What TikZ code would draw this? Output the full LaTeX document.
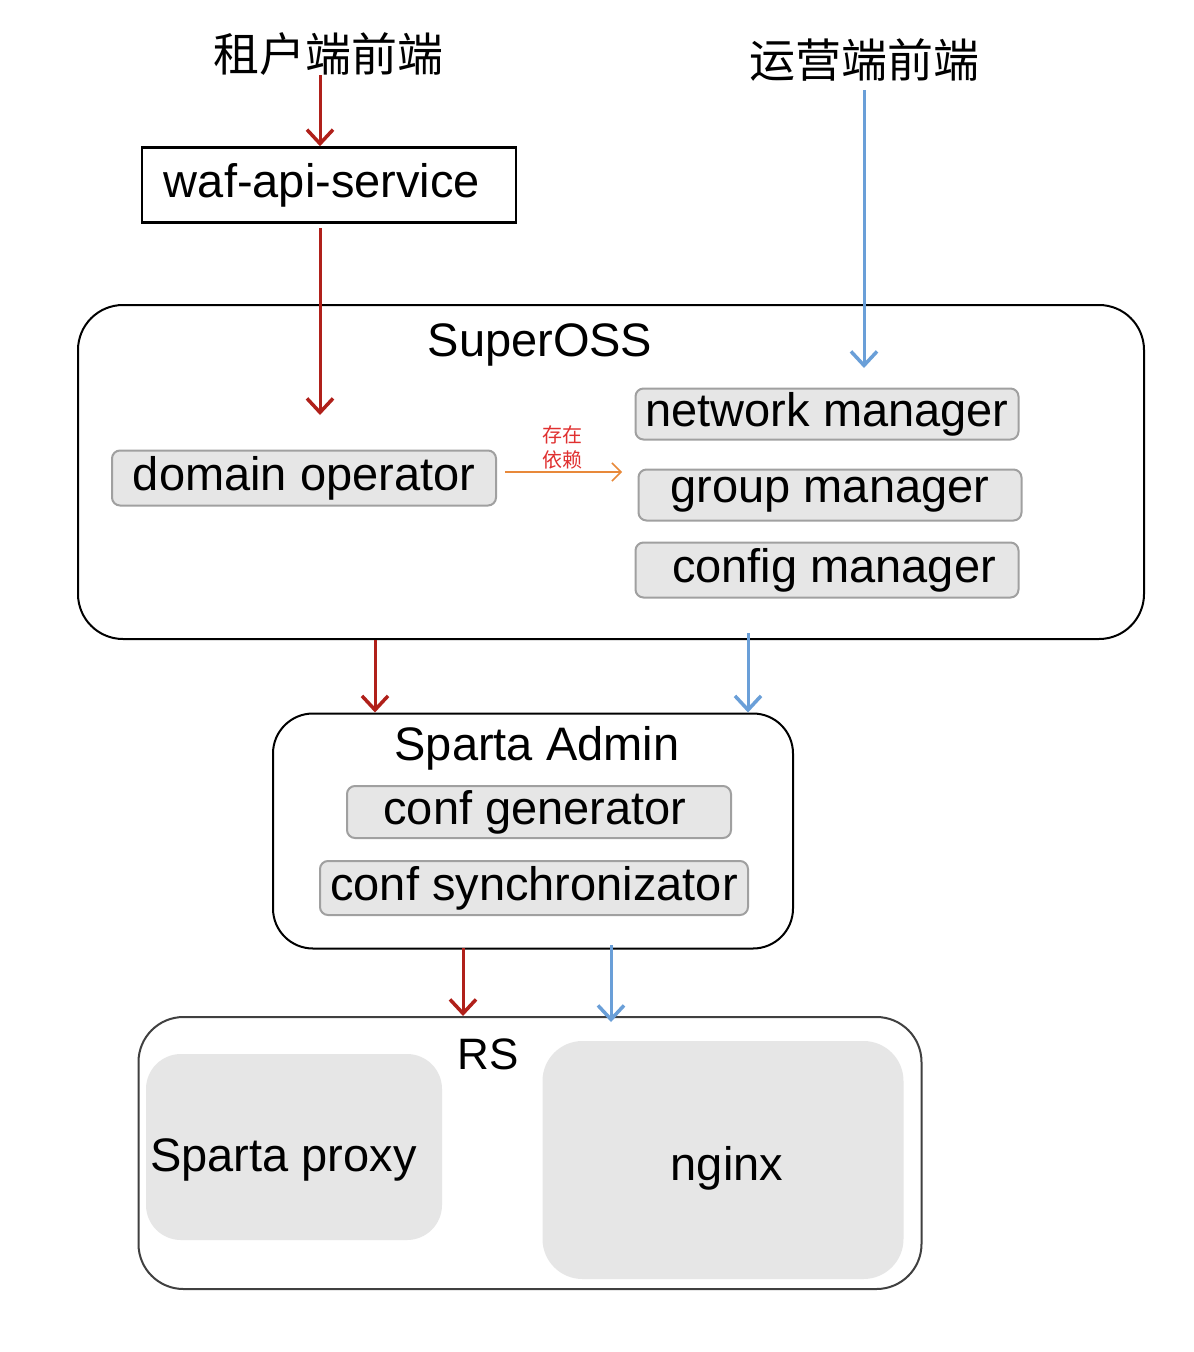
\documentclass[tikz,border=0pt]{standalone}
\usepackage{fontspec}
\setmainfont{Liberation Sans}
\newfontfamily\cjk{Noto Sans CJK SC}
\usetikzlibrary{arrows.meta}
\definecolor{redarr}{HTML}{B0201A}
\definecolor{bluearr}{HTML}{6A9FD8}
\definecolor{orangearr}{HTML}{E8893A}
\definecolor{deptext}{HTML}{E03030}
\definecolor{grayfill}{HTML}{E6E6E6}
\definecolor{grayline}{HTML}{A0A0A0}
\definecolor{rsline}{HTML}{404040}
\tikzset{
  big/.style={font=\fontsize{47}{56}\selectfont},
  title/.style={font=\cjk\fontsize{46}{54}\selectfont},
  plainbox/.style={draw=black, line width=2.5pt, inner sep=0pt},
  container/.style={draw=black, line width=2pt, rounded corners=45pt, inner sep=0pt},
  graybox/.style={draw=grayline, fill=grayfill, line width=2pt, rounded corners=8pt, inner sep=0pt, big},
  softbox/.style={fill=grayfill, inner sep=0pt, big},
  redflow/.style={draw=redarr, line width=3pt, -{Straight Barb[length=14pt,width=26pt,line width=3.5pt]}},
  blueflow/.style={draw=bluearr, line width=3pt, -{Straight Barb[length=14pt,width=26pt,line width=3.5pt]}},
  depflow/.style={draw=orangearr, line width=1.5pt, -{Straight Barb[length=9pt,width=18pt]}},
}
\begin{document}
\begin{tikzpicture}[x=1pt,y=-1pt]
\useasboundingbox[fill=white] (0,0) rectangle (1194,1352);

% titles
\node[title] (tenant) at (328,54) {租户端前端};
\node[title] (ops) at (864,60) {运营端前端};

% waf-api-service
\node[plainbox, big, minimum width=374pt, minimum height=75pt] (waf) at (329,185) {\hspace{-14pt}waf-api-service};

% SuperOSS
\node[container, minimum width=1066pt, minimum height=334pt] (oss) at (611,472) {};
\node[big] (osslabel) at (540,345) {SuperOSS};
\node[graybox, minimum width=384pt, minimum height=55pt] (domain) at (304,478) {\raisebox{-1pt}{domain operator}};
\node[graybox, minimum width=383pt, minimum height=51pt] (network) at (827,414) {\raisebox{-2pt}{network manager}};
\node[graybox, minimum width=383pt, minimum height=51pt] (group) at (830,495) {\raisebox{-1pt}{group manager}};
\node[graybox, minimum width=383pt, minimum height=55pt] (config) at (827,570) {\hspace{14pt}\raisebox{-1pt}{config manager}};

% dependency
\coordinate (deps) at (505,472);
\coordinate (depe) at (622,472);
\draw[depflow] (deps) -- (depe);
\node[font=\cjk\fontsize{20}{25}\selectfont, text=deptext, align=center, inner sep=0pt] (deplabel) at (562,447) {存在\\依赖};

% Sparta Admin
\node[container, rounded corners=40pt, minimum width=520pt, minimum height=235pt] (admin) at (533,831) {};
\node[big] (adminlabel) at (537,748) {Sparta Admin};
\node[graybox, minimum width=384pt, minimum height=52pt] (gen) at (539,812) {\hspace{-8pt}\raisebox{-2pt}{conf generator}};
\node[graybox, minimum width=428pt, minimum height=54pt] (sync) at (534,888) {\raisebox{-2pt}{conf synchronizator}};

% RS
\node[container, draw=rsline, minimum width=783pt, minimum height=272pt] (rs) at (530,1153) {};
\node[big, font=\fontsize{44}{52}\selectfont] (rslabel) at (488,1054) {RS};
\node[softbox, rounded corners=35pt, minimum width=296pt, minimum height=186pt] (proxy) at (294,1147) {};
\node[big, anchor=west, inner sep=0pt] (proxytext) at (150,1160) {Sparta proxy};
\node[softbox, rounded corners=40pt, minimum width=361pt, minimum height=238pt] (nginx) at (723,1160) {};
\node[big] (nginxtext) at (727,1168) {nginx};

% red flow
\coordinate (r1) at (320,75);
\draw[redflow] (r1) -- (r1 |- waf.north);
\coordinate (r2s) at (320,228);
\coordinate (r2e) at (320,415);
\draw[redflow] (r2s) -- (r2e);
\coordinate (r3) at (375,640);
\draw[redflow] (r3) -- (r3 |- admin.north);
\coordinate (r4) at (463,948);
\draw[redflow] (r4) -- (r4 |- rs.north);

% blue flow
\coordinate (b1s) at (864,90);
\coordinate (b1e) at (864,368);
\draw[blueflow] (b1s) -- (b1e);
\coordinate (b2) at (748,633);
\draw[blueflow] (b2) -- (b2 |- admin.north);
\coordinate (b3) at (611,945);
\coordinate (b3e) at (611,1022);
\draw[blueflow] (b3) -- (b3e);
\end{tikzpicture}
\end{document}
